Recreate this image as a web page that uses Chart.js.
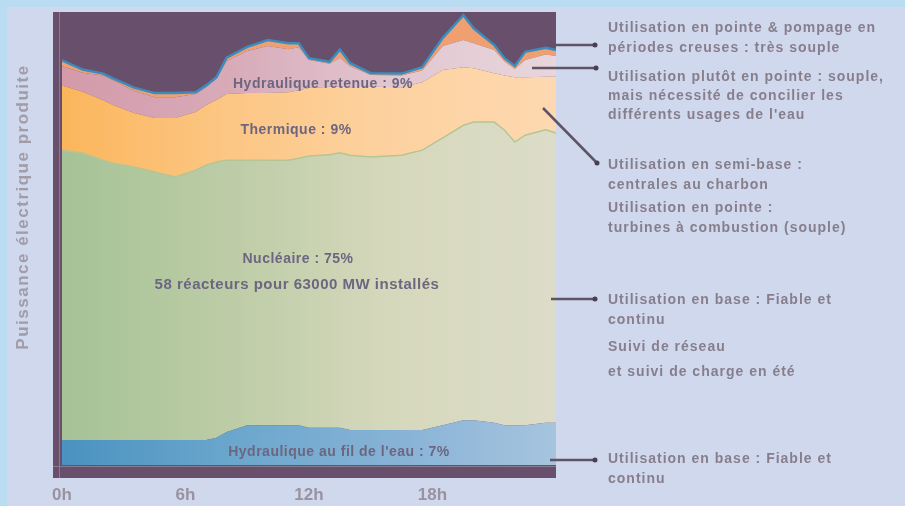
<!DOCTYPE html>
<html lang="fr">
<head>
<meta charset="utf-8">
<script src="https://cdn.jsdelivr.net/npm/chart.js@4.4.1/dist/chart.umd.min.js"></script>
<style>
  html, body { margin: 0; padding: 0; background: #d0d8ee; }
  #wrap { width: 905px; height: 506px; position: relative; }
</style>
</head>
<body>
<div id="wrap"><canvas id="prod"></canvas></div>
<script>
// heures de la journée
const hours = [0, 1, 2, 2.5, 3.5, 4.5, 5.5, 6.5, 7, 7.5, 8, 9, 10, 11, 11.5, 12, 13, 13.5, 14, 15, 16.5, 17.5, 18.5, 19.5, 20, 21, 21.5, 22, 22.5, 23.5, 24];
const tickHours = [0, 6, 12, 18];
const tickLabels = ['0h', '6h', '12h', '18h'];

// épaisseur de chaque couche (puissance relative)
const filEau    = [5.5, 5.5, 5.5, 5.5, 5.5, 5.5, 5.5, 5.5, 5.5, 6.0, 7.3, 8.8, 8.8, 8.8, 8.8, 8.2, 8.2, 8.2, 7.7, 7.7, 7.7, 7.7, 8.8, 9.9, 9.9, 9.3, 8.8, 8.8, 8.8, 9.3, 9.3];
const nucleaire = [64.0, 63.4, 61.8, 61.1, 60.3, 59.2, 58.1, 59.6, 60.7, 60.9, 60.0, 58.5, 58.5, 58.5, 58.9, 60.0, 60.3, 60.7, 60.7, 60.3, 60.7, 61.8, 63.4, 65.1, 65.8, 66.4, 65.1, 62.5, 64.0, 64.7, 64.0];
const thermique = [14.3, 13.5, 13.2, 12.8, 11.9, 11.9, 13.0, 12.8, 13.2, 13.7, 14.6, 14.8, 14.8, 15.0, 15.0, 15.0, 15.0, 14.6, 15.0, 15.5, 15.0, 15.0, 15.0, 12.8, 11.9, 10.8, 12.1, 14.3, 12.8, 11.7, 12.4];
const retenue   = [4.2, 4.2, 5.5, 5.5, 4.9, 4.6, 4.6, 4.0, 4.0, 4.6, 7.3, 9.3, 10.4, 9.5, 9.5, 6.2, 5.1, 6.4, 4.6, 2.6, 2.6, 2.6, 5.3, 6.0, 5.5, 5.1, 3.1, 1.8, 3.8, 4.9, 4.6];
const pointe    = [1.3, 0.7, 0.4, 0.4, 0.7, 0.9, 0.9, 0.4, 0.4, 0.4, 0.7, 0.9, 1.3, 1.3, 0.9, 0.4, 0.4, 1.8, 0.7, 0.4, 0.4, 0.7, 1.8, 5.5, 3.3, 1.1, 0.7, 0.7, 1.8, 1.5, 1.3];

const areaLabels = [
  { text: "Hydraulique retenue : 9%", x: 323, y: 84, size: 14 },
  { text: "Thermique : 9%", x: 296, y: 130, size: 14 },
  { text: "Nucléaire : 75%", x: 298, y: 259, size: 14 },
  { text: "58 réacteurs pour 63000 MW installés", x: 297, y: 285, size: 15 },
  { text: "Hydraulique au fil de l'eau : 7%", x: 339, y: 452, size: 14 }
];

const notes = [
  { lines: ["Utilisation en pointe & pompage en", "périodes creuses : très souple"], y: [28, 48] },
  { lines: ["Utilisation plutôt en pointe : souple,", "mais nécessité de concilier les", "différents usages de l'eau"], y: [77, 96, 115] },
  { lines: ["Utilisation en semi-base :", "centrales au charbon", "Utilisation en pointe :", "turbines à combustion (souple)"], y: [165, 185, 208, 228] },
  { lines: ["Utilisation en base : Fiable et", "continu", "Suivi de réseau", "et suivi de charge en été"], y: [300, 320, 347, 372] },
  { lines: ["Utilisation en base : Fiable et", "continu"], y: [459, 479] }
];

const arrows = [
  [550, 45, 595, 45],
  [532, 68, 596, 68],
  [543, 108, 597, 163],
  [551, 299, 595, 299],
  [550, 460, 595, 460]
];

function hGrad(stops) {
  return (ctx) => {
    const area = ctx.chart.chartArea;
    if (!area) return stops[0];
    const g = ctx.chart.ctx.createLinearGradient(area.left, 0, area.right, 0);
    stops.forEach((c, i) => g.addColorStop(i / (stops.length - 1), c));
    return g;
  };
}

function series(vals) {
  return hours.map((h, i) => ({ x: h, y: vals[i] }));
}

const decor = {
  id: 'decor',
  beforeDraw(chart) {
    const c = chart.ctx;
    c.save();
    c.fillStyle = '#d0d8ee';
    c.fillRect(0, 0, chart.width, chart.height);
    c.fillStyle = '#badcf2';
    c.fillRect(0, 0, chart.width, 7);
    c.fillRect(0, 0, 7, chart.height);
    // cadre sombre
    const a = chart.chartArea;
    c.fillStyle = '#684f6c';
    c.fillRect(a.left - 9, a.top, a.right - a.left + 9, a.bottom - a.top + 13);
    c.fillStyle = '#8a7a8e';
    c.fillRect(a.left - 3, a.top, 1, a.bottom - a.top + 13);
    c.fillRect(a.left - 9, a.bottom + 1, a.right - a.left + 9, 1);
    c.restore();
  },
  afterDatasetsDraw(chart) {
    const c = chart.ctx;
    const x = chart.scales.x;
    c.save();
    c.textBaseline = 'middle';
    c.textAlign = 'center';
    c.fillStyle = '#6c6680';
    c.letterSpacing = '0.5px';
    areaLabels.forEach(l => {
      c.font = 'bold ' + l.size + 'px "Liberation Sans", Arial, sans-serif';
      c.fillText(l.text, l.x, l.y);
    });
    // graduations horaires
    c.letterSpacing = '0px';
    c.fillStyle = '#9a929e';
    c.font = 'bold 17px "Liberation Sans", Arial, sans-serif';
    tickHours.forEach((h, i) => c.fillText(tickLabels[i], x.getPixelForValue(h), 495));
    // titre vertical
    c.save();
    c.translate(23, 207);
    c.rotate(-Math.PI / 2);
    c.letterSpacing = '1.5px';
    c.font = 'bold 17px "Liberation Sans", Arial, sans-serif';
    c.fillStyle = '#a29ca8';
    c.fillText('Puissance électrique produite', 0, 0);
    c.restore();
    // commentaires à droite
    c.textAlign = 'left';
    c.fillStyle = '#877e8c';
    c.letterSpacing = '1px';
    c.font = 'bold 14px "Liberation Sans", Arial, sans-serif';
    notes.forEach(n => n.lines.forEach((t, i) => c.fillText(t, 608, n.y[i])));
    // flèches
    c.strokeStyle = '#5e5464';
    c.fillStyle = '#4a3e52';
    c.lineWidth = 2.5;
    arrows.forEach(([x1, y1, x2, y2]) => {
      c.beginPath();
      c.moveTo(x1, y1);
      c.lineTo(x2, y2);
      c.stroke();
      c.beginPath();
      c.arc(x2, y2, 2.5, 0, Math.PI * 2);
      c.fill();
    });
    c.restore();
  }
};

new Chart(document.getElementById('prod'), {
  type: 'line',
  data: {
    datasets: [
      { label: "Fil de l'eau", data: series(filEau), fill: 'origin', borderWidth: 0,
        backgroundColor: hGrad(['#4a92c0', '#6aa6cc', '#86b2d6', '#a6c4de']) },
      { label: 'Nucléaire', data: series(nucleaire), fill: '-1', borderWidth: 1.5, borderColor: '#b4c694',
        backgroundColor: hGrad(['#a6c296', '#bccca6', '#d6d8bc', '#dcdcc8']) },
      { label: 'Thermique', data: series(thermique), fill: '-1', borderWidth: 0,
        backgroundColor: hGrad(['#fbb65c', '#fcc684', '#fdd2a0', '#fdd8b0']) },
      { label: 'Hydraulique retenue', data: series(retenue), fill: '-1', borderWidth: 0,
        backgroundColor: hGrad(['#d49aaa', '#d8aab8', '#e2c6d0', '#e8d6dc']) },
      { label: 'Pointe', data: series(pointe), fill: '-1', borderWidth: 2.5, borderColor: '#3a8cbe',
        backgroundColor: '#f0a070' }
    ]
  },
  options: {
    responsive: true,
    maintainAspectRatio: false,
    animation: false,
    layout: { padding: { left: 62, top: 12, right: 349, bottom: 41 } },
    elements: { point: { radius: 0 }, line: { tension: 0 } },
    scales: {
      x: { type: 'linear', min: 0, max: 24, display: false },
      y: { stacked: true, min: 0, max: 100, display: false }
    },
    plugins: {
      legend: { display: false },
      tooltip: { enabled: false },
      filler: { drawTime: 'beforeDatasetsDraw' }
    }
  },
  plugins: [decor]
});
</script>
</body>
</html>
